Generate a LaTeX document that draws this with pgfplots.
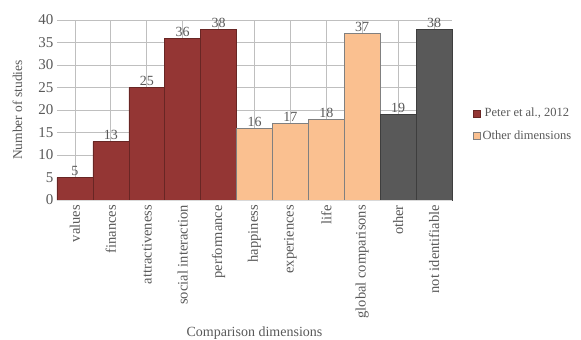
\documentclass[border=0pt]{standalone}
\usepackage{pgfplots}
\pgfplotsset{compat=1.18}
\usepackage{fontspec}
\setmainfont{Liberation Serif}
\definecolor{txt}{HTML}{595959}
\definecolor{cRed}{HTML}{943634}
\definecolor{cOr}{HTML}{FAC090}
\definecolor{cGr}{HTML}{595959}
\definecolor{grid}{HTML}{D9D9D9}
\begin{document}
\begin{tikzpicture}[x=1pt,y=1pt]
\useasboundingbox (-57,-140) rectangle (524,200);
\begin{axis}[
  at={(0,0)}, anchor=south west,
  scale only axis, width=395pt, height=180pt,
  xmin=-0.5, xmax=10.5, ymin=0, ymax=40,
  ytick={0,5,...,40},
  xtick={0,...,10},
  xticklabels={values,finances,attractiveness,social interaction,performance,happiness,experiences,life,global comparisons,other,not identifiable},
  xticklabel style={rotate=90, anchor=east, font=\fontsize{14.5}{14.5}\selectfont, text=txt, inner sep=5pt},
  yticklabel style={font=\fontsize{15}{15}\selectfont, text=txt},
  /pgf/number format/assume math mode=true,
  major tick length=0pt,
  axis line style={draw=none},
  ymajorgrids, grid style={grid, line width=0.8pt},
  ylabel={Number of studies},
  ylabel style={at={(axis description cs:-0.1,0.5)}, anchor=center, font=\fontsize{13.5}{13.5}\selectfont, text=txt},
  xlabel={Comparison dimensions},
  xlabel style={at={(axis description cs:0.5,-0.739)}, anchor=center, font=\fontsize{14}{14}\selectfont, text=txt},
  ybar, bar width=1, bar shift=0pt,
  nodes near coords,
  every node near coord/.append style={font=\fontsize{14}{14}\selectfont, text=txt, inner sep=1.5pt},
  legend style={draw=none, fill=none, at={(axis description cs:1.053,0.522)}, anchor=north west, font=\fontsize{12.5}{12.5}\selectfont, text=txt, row sep=8pt, inner sep=0pt},
  legend image code/.code={\fill[#1] (0pt,-3.5pt) rectangle (7pt,3.5pt);},
  clip=false,
]
\addplot[fill=cRed, draw=cRed!70!black, line width=0.5pt] coordinates {(0,5) (1,13) (2,25) (3,36) (4,38)};
\addlegendentry{Peter et al., 2012}
\addplot[fill=cOr, draw=gray, line width=0.5pt] coordinates {(5,16) (6,17) (7,18) (8,37)};
\addlegendentry{Other dimensions}
\addplot[fill=cGr, draw=cGr!70!black, line width=0.5pt, forget plot] coordinates {(9,19) (10,38)};
\draw[grid, line width=0.8pt] (axis cs:-0.5,0) -- (axis cs:10.5,0);
\end{axis}
\end{tikzpicture}
\end{document}
